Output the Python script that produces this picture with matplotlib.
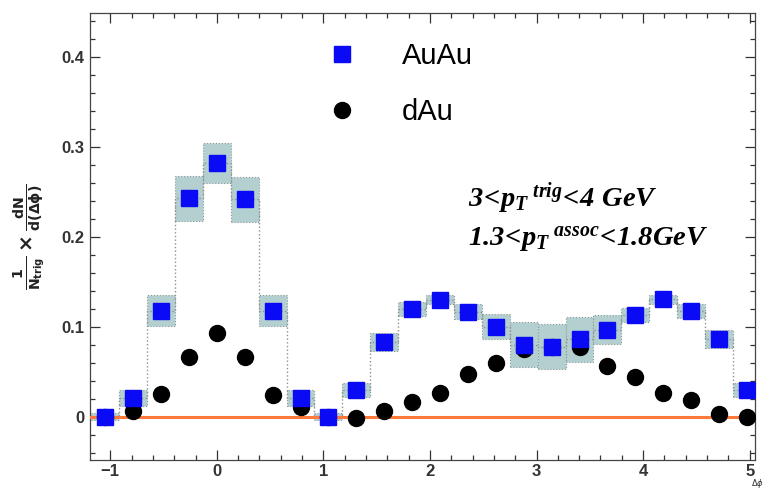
import numpy as np
import matplotlib
matplotlib.use("Agg")
import matplotlib.pyplot as plt
from matplotlib.patches import Rectangle
from matplotlib.ticker import MultipleLocator

# mathtext for the italic-bold serif annotation
plt.rcParams["mathtext.fontset"] = "custom"
plt.rcParams["mathtext.rm"] = "Liberation Serif:italic:bold"
plt.rcParams["mathtext.it"] = "Liberation Serif:italic:bold"
plt.rcParams["mathtext.bf"] = "Liberation Serif:italic:bold"

# ============================================================
# Data
# ============================================================
bin_index = np.arange(24)
bin_width = np.pi / 12
dphi = -np.pi / 3 + bin_index * bin_width

auau = [0.000, 0.021, 0.118, 0.243, 0.282, 0.242, 0.118, 0.021,
        0.000, 0.030, 0.083, 0.120, 0.130, 0.117, 0.100, 0.080,
        0.078, 0.086, 0.097, 0.113, 0.131, 0.118, 0.086, 0.030]
auau_sys = [0.004, 0.009, 0.017, 0.025, 0.022, 0.025, 0.017, 0.009,
            0.004, 0.008, 0.010, 0.008, 0.005, 0.008, 0.014, 0.025,
            0.025, 0.025, 0.016, 0.008, 0.005, 0.008, 0.010, 0.008]
dau = [0.000, 0.006, 0.025, 0.067, 0.093, 0.066, 0.024, 0.011,
       0.000, -0.001, 0.006, 0.016, 0.026, 0.048, 0.060, 0.075,
       0.078, 0.078, 0.057, 0.044, 0.026, 0.019, 0.003, 0.000]

series_labels = ["AuAu", "dAu"]
ytick_vals = [0, 0.1, 0.2, 0.3, 0.4]
ytick_labels = ["0", "0.1", "0.2", "0.3", "0.4"]
xtick_vals = [-1, 0, 1, 2, 3, 4, 5]

# ============================================================
# Plot
# ============================================================
fig = plt.figure(figsize=(7.64, 4.90), dpi=100)
ax = fig.add_axes([90 / 764, 1 - 460 / 490, 665 / 764, 447 / 490])

# systematic boxes
for x, y, s in zip(dphi, auau, auau_sys):
    ax.add_patch(Rectangle((x - bin_width / 2, y - s), bin_width, 2 * s,
                           facecolor="#b3cfcf", edgecolor="#8a9a9a",
                           linestyle=":", linewidth=0.8, zorder=1))

# histogram outline
ax.step(dphi, auau, where="mid", color="#909090", linestyle=":",
        linewidth=1.0, zorder=2)

ax.axhline(0, color="#ff7a3a", linewidth=2.2, zorder=3)

ax.plot(dphi, dau, "o", color="black", markersize=11.5, zorder=4,
        label=series_labels[1])
ax.plot(dphi, auau, "s", color="#0a0af5", markersize=11.5, zorder=5,
        label=series_labels[0])

ax.set_xlim(-1.19, 5.05)
ax.set_ylim(-0.048, 0.449)

ax.set_yticks(ytick_vals)
ax.set_yticklabels(ytick_labels)
ax.set_xticks(xtick_vals)
ax.xaxis.set_minor_locator(MultipleLocator(0.2))
ax.yaxis.set_minor_locator(MultipleLocator(0.02))
ax.tick_params(which="both", direction="in", top=True, right=True,
               color="#333333", width=0.9)
ax.tick_params(which="major", length=7)
ax.tick_params(which="minor", length=3.5)
ax.tick_params(axis="y", pad=4)
ax.tick_params(axis="x", pad=3)
for lab in ax.get_xticklabels() + ax.get_yticklabels():
    lab.set_fontfamily("Liberation Sans")
    lab.set_fontweight("bold")
    lab.set_fontsize(12)
    lab.set_color("#333333")
for sp in ax.spines.values():
    sp.set_color("#444444")
    sp.set_linewidth(0.9)

# y label
fig.text(29 / 764, 1 - 237 / 490,
         r"$\mathbf{\frac{1}{N_{trig}}\times\frac{dN}{d(\Delta\phi)}}$",
         rotation=90, ha="center", va="center", fontsize=14.5,
         math_fontfamily="dejavusans", color="#222222")

# x label (tucked into the bottom-right corner, as in the original)
fig.text(0.9995, 0.0, r"$\Delta\phi$", ha="right", va="bottom",
         fontsize=6, math_fontfamily="dejavusans", color="#333333")

# legend
handles, labels = ax.get_legend_handles_labels()
order = [labels.index(s) for s in series_labels]
ax.legend([handles[i] for i in order], [labels[i] for i in order],
          loc="upper left", bbox_to_anchor=(0.335, 0.935), frameon=False,
          numpoints=1, handlelength=2.0, handletextpad=1.05,
          borderpad=0, borderaxespad=0, labelspacing=0.95,
          prop={"family": "Liberation Sans", "size": 21})

# kinematic cuts
ax.text(0.568, 0.568, r"$3\!<\!p_T{}^{\ trig}\!<\!4\ GeV$",
        transform=ax.transAxes, fontsize=20.5, math_fontfamily="custom",
        ha="left", va="baseline")
ax.text(0.568, 0.478, r"$1.3\!<\!p_T{}^{\ assoc}\!<\!1.8GeV$",
        transform=ax.transAxes, fontsize=20.5, math_fontfamily="custom",
        ha="left", va="baseline")

fig.savefig("out.png", dpi=100)
